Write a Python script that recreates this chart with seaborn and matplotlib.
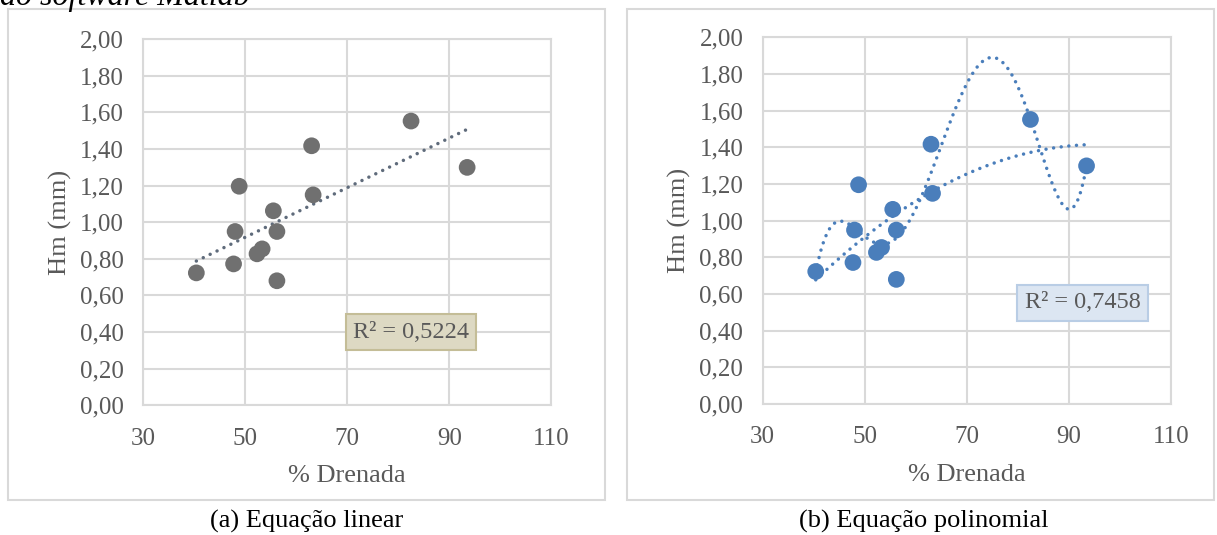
import numpy as np
import pandas as pd
import matplotlib
matplotlib.use("Agg")
import matplotlib.pyplot as plt
import seaborn as sns
from matplotlib.patches import Rectangle

# ---- data ----
drenada = [40.4, 47.7, 48.0, 48.8, 52.3, 53.3, 55.5, 56.2, 56.2, 63.0, 63.3, 82.5, 93.5]
hm_mm = [0.723, 0.772, 0.949, 1.196, 0.827, 0.854, 1.062, 0.949, 0.680, 1.417, 1.149, 1.552, 1.299]
x_ticks = [30, 50, 70, 90, 110]
y_ticks = [0.0, 0.2, 0.4, 0.6, 0.8, 1.0, 1.2, 1.4, 1.6, 1.8, 2.0]
r2_labels = ["R² = 0,5224", "R² = 0,7458"]
captions = ["(a) Equação linear", "(b) Equação polinomial"]

df = pd.DataFrame({"drenada": drenada, "hm": hm_mm})

sns.set_theme(style="white")
plt.rcParams["font.family"] = ["Liberation Serif", "DejaVu Serif"]

W, H = 1217, 535
fig = plt.figure(figsize=(W / 100, H / 100), dpi=100)

def px_axes(x0, y0, x1, y1):
    return fig.add_axes([x0 / W, 1 - y1 / H, (x1 - x0) / W, (y1 - y0) / H])

def fmt(v):
    return f"{v:.2f}".replace(".", ",")

GRID = "#D9D9D9"
TXT = "#595959"

# outer boxes
for (bx0, bx1) in [(8, 605), (627, 1214)]:
    fig.patches.append(Rectangle((bx0 / W, 1 - 500 / H), (bx1 - bx0) / W, (500 - 9) / H,
                                 transform=fig.transFigure, fill=False, edgecolor=GRID, lw=1.5))

axL = px_axes(143.3, 39.0, 551.3, 405.3)
axR = px_axes(762.7, 37.3, 1170.7, 404.1)

def style(ax):
    ax.set_xlim(30, 110)
    ax.set_ylim(0, 2.0)
    ax.set_xticks(x_ticks)
    ax.set_yticks(y_ticks)
    ax.set_yticklabels([fmt(v) for v in y_ticks])
    ax.set_xticklabels([str(v) for v in x_ticks])
    ax.grid(True, color=GRID, lw=1.5)
    ax.set_axisbelow(True)
    for s in ax.spines.values():
        s.set_color(GRID)
        s.set_linewidth(1.5)
    ax.tick_params(length=0, labelsize=18, labelcolor=TXT)
    ax.tick_params(axis="y", pad=14)
    ax.tick_params(axis="x", pad=16)
    ax.set_xlabel("% Drenada", fontsize=19, color=TXT, labelpad=11)
    ax.set_ylabel("Hm (mm)", fontsize=19, color=TXT, labelpad=6)

dot = dict(linestyle=(0, (0.01, 2.2)), dash_capstyle="round", lw=2.5)

# (a) linear trend
sns.regplot(data=df, x="drenada", y="hm", ax=axL, order=1, ci=None, scatter=False,
            line_kws=dict(color="#5F6B7B", **dot))
sns.scatterplot(data=df, x="drenada", y="hm", ax=axL, color="#707070", s=145, edgecolor="none", zorder=3)
style(axL)
axL.text(82.5, 0.40, r2_labels[0], ha="center", va="center", fontsize=17.5, color=TXT,
         bbox=dict(boxstyle="square,pad=0.3", facecolor="#DDD9C3", edgecolor="#C4BD97", lw=1.5))

# (b) polynomial trends
BLUE = "#4A7EBB"
sns.regplot(data=df, x="drenada", y="hm", ax=axR, order=5, ci=None, scatter=False,
            line_kws=dict(color=BLUE, **dot))
sns.regplot(data=df, x="drenada", y="hm", ax=axR, order=2, ci=None, scatter=False,
            line_kws=dict(color=BLUE, **dot))
sns.scatterplot(data=df, x="drenada", y="hm", ax=axR, color=BLUE, s=145, edgecolor="none", zorder=3)
style(axR)
axR.text(92.7, 0.552, r2_labels[1], ha="center", va="center", fontsize=17.5, color=TXT,
         bbox=dict(boxstyle="square,pad=0.3", facecolor="#DCE6F2", edgecolor="#B9CDE5", lw=1.5))

# captions and top text
fig.text(307 / W, 1 - 521 / H, captions[0], ha="center", va="center", fontsize=19, color="black")
fig.text(924 / W, 1 - 521 / H, captions[1], ha="center", va="center", fontsize=19, color="black")
fig.text(0 / W, 1 - 5 / H, "do software Matlab", ha="left", va="baseline", fontsize=23,
         style="italic", color="black")

fig.savefig("out.png", dpi=100)
